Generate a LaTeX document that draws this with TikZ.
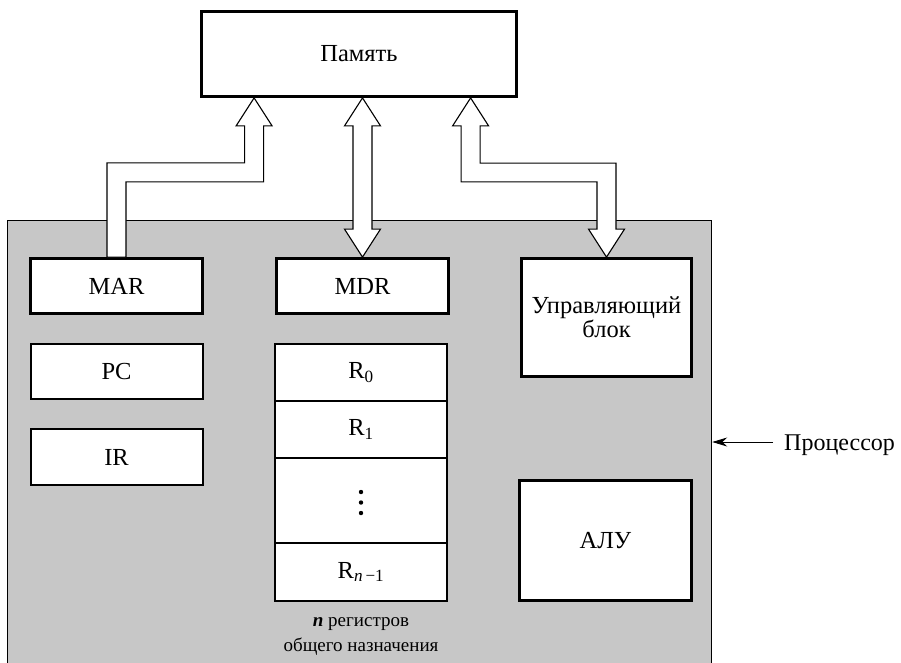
\documentclass[tikz,border=0pt]{standalone}
\usepackage{fontspec}
\setmainfont{Liberation Serif}
\usetikzlibrary{arrows.meta,calc}

\newcommand\boxfont{\fontsize{24.5}{22}\selectfont}
\newcommand\sidefont{\fontsize{24}{26}\selectfont}
\newcommand\notefont{\fontsize{19}{25}\selectfont}

\tikzset{
  unit/.style={draw, fill=white, line width=2.8pt, inner sep=0pt,
    minimum width=172pt, minimum height=55pt, font=\boxfont},
  plainunit/.style={unit, line width=2pt},
  regcell/.style={draw, fill=white, line width=1.6pt, inner sep=0pt,
    minimum width=172.5pt, font=\boxfont},
  cpu/.style={draw, fill=black!22, line width=1.2pt, inner sep=0pt},
  bus/.style={draw, fill=white, line width=1.1pt, line join=miter},
  pointer/.style={line width=0.9pt, -{Stealth[length=15pt,width=9pt]}},
}

\begin{document}
\begin{tikzpicture}[x=1pt, y=-1pt]
\useasboundingbox (0,0) rectangle (901,662);
\clip (0,0) rectangle (901,662);

% processor area (runs past the lower edge)
\node[cpu, anchor=north west, minimum width=704pt, minimum height=470pt] (proc) at (7,220) {};

% memory
\node[unit, minimum width=315pt, minimum height=85pt] (mem) at (359,54) {Память};

% left column
\node[unit] (mar) at (116.5,286) {MAR};
\node[plainunit, minimum height=55pt] (pc) at (116.5,371.5) {PC};
\node[plainunit, minimum height=56pt] (ir) at (116.5,457) {IR};

% middle column
\node[unit] (mdr) at (362.5,286) {MDR};
\node[regcell, minimum height=57pt] (r0) at (361,372.5) {R\textsubscript{0}};
\node[regcell, minimum height=57pt] (r1) at (361,429.5) {R\textsubscript{1}};
\node[regcell, minimum height=85pt] (rdots) at (361,500.5) {};
\node[regcell, minimum height=58pt] (rn) at (361,572) {R\textsubscript{\textit{n}\,−1}};
\fill (rdots.center) ++(0,-8.5) circle[radius=2.2pt];
\fill (rdots.center) ++(0,2) circle[radius=2.2pt];
\fill (rdots.center) ++(0,12.5) circle[radius=2.2pt];
\node[font=\notefont, align=center, inner sep=0pt, anchor=north] (rlabel) at (361,617)
  {\textbf{\textit{n}} регистров\\общего назначения};

% right column
\node[unit, minimum width=170pt, minimum height=118pt, align=center] (ctl) at (606.5,317.5)
  {Управляющий\\блок};
\node[unit, minimum width=172pt, minimum height=120pt] (alu) at (605.5,540.5) {АЛУ};

% bus connections to memory
\coordinate (mA) at ($(mem.south west)+(54,0)$);
\coordinate (mC) at ($(mem.south west)+(270.5,0)$);

\draw[bus] ($(mar.north)+(-9.5,0)$) |- ($(mA)+(-9.5,65)$) -- ++(0,-37) -- ++(-8.5,0)
  -- (mA) -- ++(18,28) -- ++(-8.5,0) -- ++(0,56) -| ($(mar.north)+(9.5,0)$) -- cycle;

\draw[bus] (mdr.north |- mem.south) -- ++(18,28) -- ++(-8.5,0)
  -- ($(mdr.north)+(9.5,-28)$) -- ++(8.5,0) -- (mdr.north) -- ++(-18,-28) -- ++(8.5,0)
  -- ($(mdr.north |- mem.south)+(-9.5,28)$) -- ++(-8.5,0) -- cycle;

\draw[bus] (mC) -- ++(18,28) -- ++(-8.5,0) |- ($(ctl.north)+(9.5,-94)$)
  -- ($(ctl.north)+(9.5,-28)$) -- ++(8.5,0) -- (ctl.north) -- ++(-18,-28) -- ++(8.5,0)
  |- ($(mC)+(-9.5,84)$) -- ++(0,-56) -- ++(-8.5,0) -- cycle;

% processor label
\node[font=\sidefont, anchor=base west, inner sep=0pt] (plabel) at (784,450) {Процессор};
\coordinate (ptail) at (773,442);
\draw[pointer] (ptail) -- (ptail -| proc.east);
\end{tikzpicture}
\end{document}
